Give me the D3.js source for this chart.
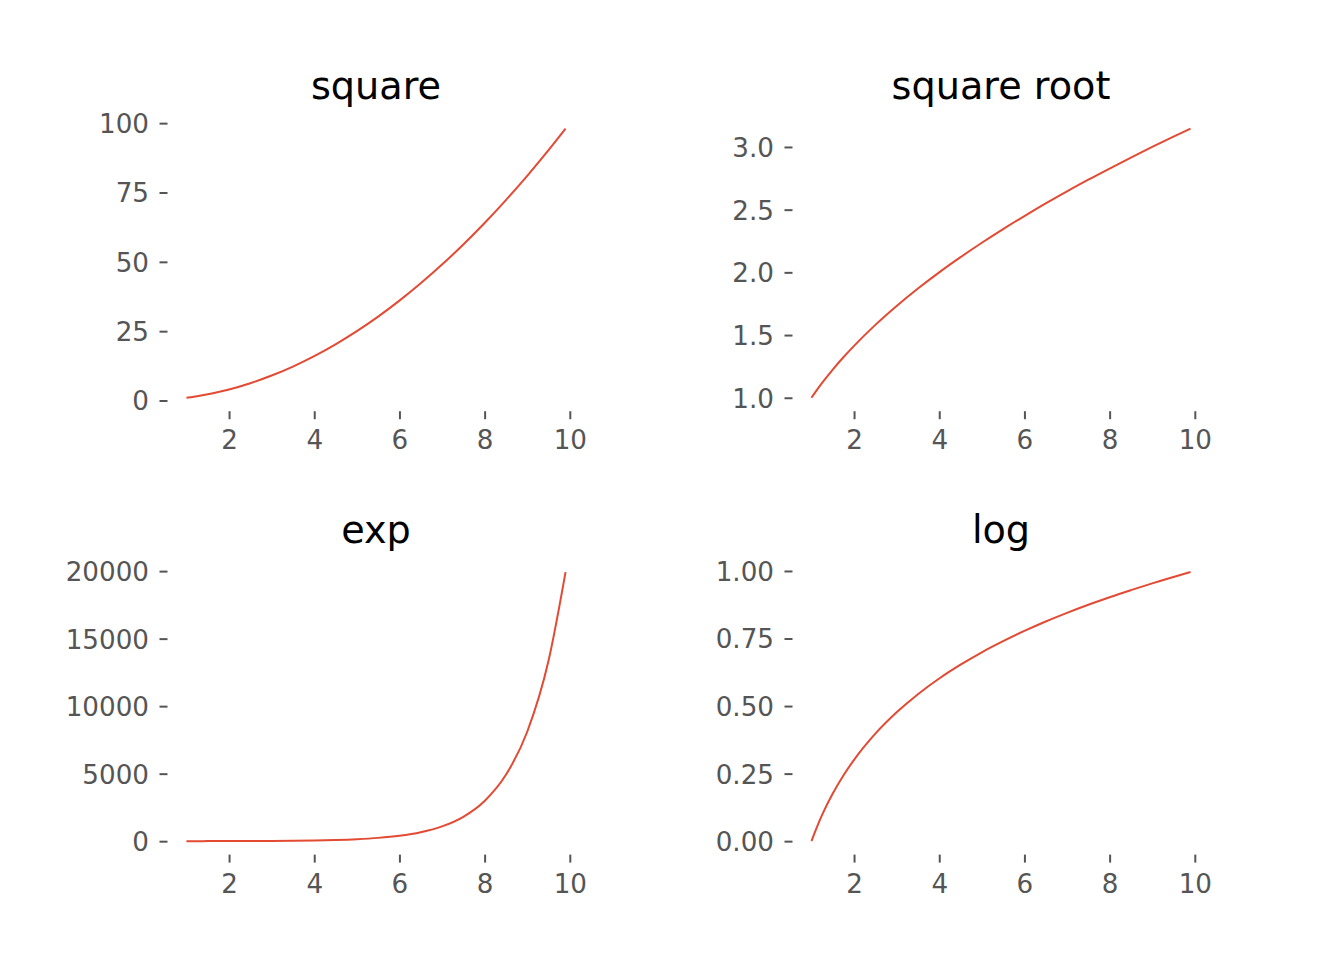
<!DOCTYPE html>
<html>
<head>
<meta charset="utf-8">
<script src="https://cdnjs.cloudflare.com/ajax/libs/d3/7.8.5/d3.min.js"></script>
<style>
	html, body { margin: 0; padding: 0; background: #fff; }
	svg { display: block; font-family: "DejaVu Sans", sans-serif; }
	.tick line { stroke: #555555; stroke-width: 2; }
	.tick text { fill: #555555; font-size: 26.2px; font-family: "DejaVu Sans", sans-serif; }
	.title { fill: #000; font-size: 38.2px; }
</style>
</head>
<body>
<svg id="chart"></svg>
<script>
// verdier lest av bildet
var xs = [1, 1.1, 1.25, 1.5, 1.75, 2, 2.5, 3, 3.5, 4, 4.5, 5, 5.5, 6, 6.5, 7, 7.5, 8, 8.5, 9, 9.5, 9.9];

var squareVals = [1, 1.21, 1.5625, 2.25, 3.0625, 4, 6.25, 9, 12.25, 16, 20.25, 25, 30.25, 36, 42.25, 49, 56.25, 64, 72.25, 81, 90.25, 98.01];
var sqrtVals = [1, 1.049, 1.118, 1.225, 1.323, 1.414, 1.581, 1.732, 1.871, 2, 2.121, 2.236, 2.345, 2.449, 2.55, 2.646, 2.739, 2.828, 2.915, 3, 3.082, 3.146];
var expVals = [2.7, 3.0, 3.5, 4.5, 5.75, 7.4, 12.2, 20.1, 33.1, 54.6, 90, 148.4, 244.7, 403.4, 665.1, 1096.6, 1808, 2981, 4915, 8103, 13360, 19930];
var logVals = [0, 0.041, 0.097, 0.176, 0.243, 0.301, 0.398, 0.477, 0.544, 0.602, 0.653, 0.699, 0.74, 0.778, 0.813, 0.845, 0.875, 0.903, 0.929, 0.954, 0.978, 0.996];

var titles = ['square', 'square root', 'exp', 'log'];

var xTicks = [2, 4, 6, 8, 10];
var squareTicks = [0, 25, 50, 75, 100];
var sqrtTicks = [1.0, 1.5, 2.0, 2.5, 3.0];
var expTicks = [0, 5000, 10000, 15000, 20000];
var logTicks = [0, 0.25, 0.5, 0.75, 1.0];

(function() {

	var width = 1344,
		height = 960,
		panelW = 417,
		panelH = 296,
		colX = [167.5, 792.5],
		rowY = [115.2, 558.6],
		lineColor = '#E24A33';

	var panels = [
		{ title: titles[0], values: squareVals, ticks: squareTicks, fmt: d3.format('d') },
		{ title: titles[1], values: sqrtVals, ticks: sqrtTicks, fmt: d3.format('.1f') },
		{ title: titles[2], values: expVals, ticks: expTicks, fmt: d3.format('d') },
		{ title: titles[3], values: logVals, ticks: logTicks, fmt: d3.format('.2f') }
	];

	// matplotlib legger 5% luft rundt dataene
	var padded = function(ext) {
		var m = (ext[1] - ext[0]) * 0.05;
		return [ext[0] - m, ext[1] + m];
	};

	var svg = d3.select('#chart')
		.attr('width', width)
		.attr('height', height);

	panels.forEach(function(p, i) {
		var px = colX[i % 2],
			py = rowY[Math.floor(i / 2)];

		var x = d3.scaleLinear().domain(padded(d3.extent(xs))).range([0, panelW]);
		var y = d3.scaleLinear().domain(padded(d3.extent(p.values))).range([panelH, 0]);

		var g = svg.append('g')
			.attr('transform', 'translate(' + px + ',' + py + ')');

		var xAxis = g.append('g')
			.attr('transform', 'translate(0,' + panelH + ')')
			.call(d3.axisBottom(x).tickValues(xTicks).tickSize(8).tickPadding(11.5).tickFormat(d3.format('d')))
			.attr('font-family', null)
			.attr('font-size', null);
		xAxis.select('.domain').remove();

		var yAxis = g.append('g')
			.call(d3.axisLeft(y).tickValues(p.ticks).tickSize(8).tickPadding(10.5).tickFormat(p.fmt))
			.attr('font-family', null)
			.attr('font-size', null);
		yAxis.select('.domain').remove();
		yAxis.selectAll('text').attr('dy', '0.36em');

		var line = d3.line()
			.x(function(d, j) { return x(xs[j]); })
			.y(function(d) { return y(d); })
			.curve(d3.curveMonotoneX);

		g.append('path')
			.datum(p.values)
			.attr('fill', 'none')
			.attr('stroke', lineColor)
			.attr('stroke-width', 2)
			.attr('d', line);

		g.append('text')
			.attr('class', 'title')
			.attr('x', panelW / 2)
			.attr('y', -16)
			.attr('text-anchor', 'middle')
			.text(p.title);
	});

})();
</script>
</body>
</html>
